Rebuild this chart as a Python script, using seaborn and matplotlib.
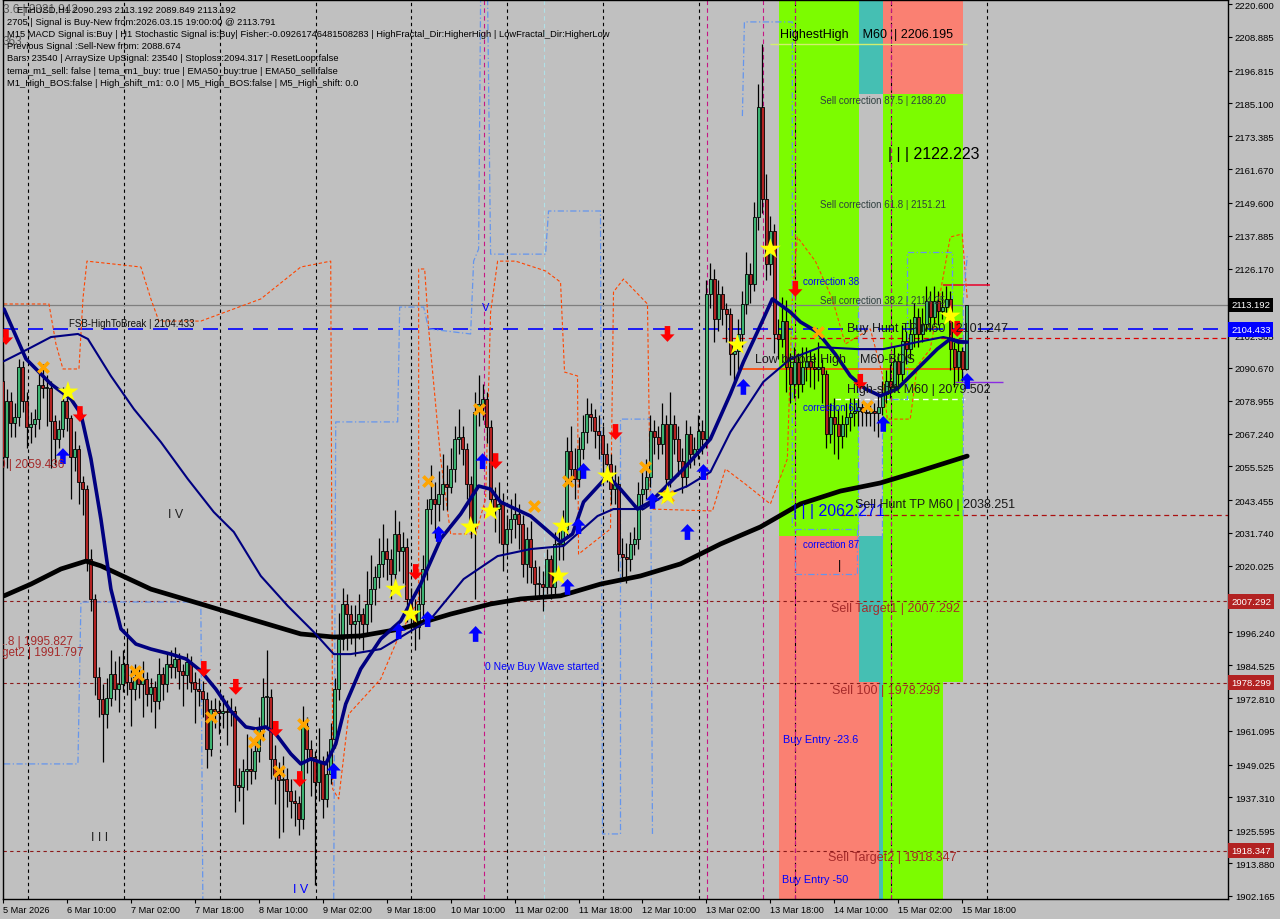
import numpy as np
import matplotlib
matplotlib.use("Agg")
import matplotlib.pyplot as plt
import seaborn as sns

# ETHUSD H1 candles, 5 Mar 18:00 -> 15 Mar 19:00 (open = previous close)
first_open = 2086.0
close = [
    2058.9, 2078.9, 2071.0, 2073.1, 2091.1, 2078.9, 2069.6, 2070.7, 2072.4, 2084.6,
    2083.5, 2083.5, 2071.7, 2065.3, 2068.9, 2078.9, 2072.8, 2058.9, 2061.7, 2050.1,
    2047.4, 2022.5, 2008.2, 1980.3, 1972.5, 1967.0, 1973.0, 1981.4, 1976.0, 1977.8,
    1984.9, 1978.5, 1976.0, 1980.3, 1977.8, 1979.6, 1974.3, 1976.8, 1971.8, 1981.4,
    1977.8, 1984.9, 1983.9, 1986.8, 1982.5, 1981.0, 1985.7, 1978.5, 1976.0, 1975.3,
    1972.5, 1954.6, 1968.9, 1968.2, 1967.5, 1968.2, 1967.8, 1968.2, 1941.8, 1941.0,
    1946.8, 1947.5, 1946.8, 1954.0, 1961.8, 1973.2, 1973.2, 1951.1, 1945.4, 1943.6,
    1943.9, 1939.6, 1936.1, 1935.3, 1929.6, 1962.8, 1954.6, 1951.8, 1942.8, 1950.4,
    1936.8, 1945.7, 1958.2, 1976.0, 1993.9, 2006.4, 2002.8, 1999.2, 2000.3, 2002.8,
    1999.2, 2006.4, 2011.7, 2016.0, 2020.7, 2025.3, 2022.5, 2017.1, 2031.4, 2025.3,
    2026.8, 2008.2, 2002.8, 1998.2, 2006.4, 2018.9, 2040.3, 2043.9, 2042.1, 2045.6,
    2049.2, 2048.1, 2054.6, 2065.3, 2066.0, 2061.7, 2049.2, 2034.3, 2074.9, 2077.8,
    2079.6, 2069.6, 2043.9, 2040.3, 2042.1, 2027.8, 2033.2, 2036.7, 2038.5, 2035.0,
    2020.7, 2029.6, 2019.6, 2013.5, 2013.5, 2012.5, 2022.5, 2012.5, 2027.8, 2027.8,
    2033.2, 2061.0, 2054.6, 2051.0, 2061.7, 2067.8, 2074.2, 2073.1, 2068.2, 2066.8,
    2060.0, 2056.4, 2047.4, 2049.2, 2024.2, 2023.2, 2022.5, 2027.8, 2029.6, 2045.6,
    2047.4, 2051.7, 2068.2, 2066.0, 2063.5, 2070.7, 2051.0, 2070.7, 2065.3, 2057.5,
    2051.7, 2067.1, 2060.0, 2061.7, 2068.2, 2065.3, 2117.0, 2122.4, 2108.1, 2117.0,
    2111.7, 2109.9, 2095.6, 2096.7, 2102.8, 2113.5, 2124.2, 2120.6, 2144.5, 2183.8,
    2151.0, 2127.8, 2139.6, 2102.8, 2101.0, 2107.4, 2091.0, 2084.9, 2092.8, 2084.9,
    2091.0, 2093.1, 2091.0, 2090.3, 2091.0, 2088.5, 2067.1, 2073.1, 2070.7, 2066.4,
    2070.7, 2073.1, 2074.6, 2075.2, 2076.7, 2074.9, 2074.6, 2075.2, 2074.6, 2076.7,
    2081.4, 2086.0, 2083.9, 2093.1, 2088.5, 2100.3, 2097.4, 2102.8, 2108.8, 2102.8,
    2106.4, 2114.6, 2108.8, 2114.6, 2111.0, 2112.4, 2115.3, 2097.4, 2091.0, 2096.7,
    2090.3, 2113.2,
]
high = [
    2092, 2083, 2082, 2078, 2094, 2093, 2082, 2075, 2076, 2090,
    2092, 2088, 2086, 2074, 2072, 2084, 2082, 2074, 2068, 2063,
    2052, 2049, 2026, 2010, 1984, 1978, 1980, 1990, 1986, 1988,
    1990, 1998, 1983, 1985, 1984, 1986, 1982, 1980, 1979, 1987,
    1984, 1989, 1990, 1991, 1989, 1985, 1989, 1988, 1982, 1980,
    1979, 1975, 1972, 1973, 1972, 1974, 1972, 1973, 1970, 1948,
    1951, 1960, 1955, 1958, 1966, 1980, 1990, 1976, 1956, 1950,
    1952, 1948, 1944, 1940, 1938, 1970, 1966, 1958, 1954, 1962,
    1952, 1954, 1964, 1980, 2003, 2012, 2010, 2006, 2006, 2010,
    2005, 2018, 2024, 2020, 2030, 2035, 2030, 2026, 2040, 2036,
    2032, 2030, 2012, 2008, 2012, 2024, 2044, 2056, 2050, 2054,
    2060, 2056, 2062, 2070, 2076, 2070, 2064, 2052, 2082, 2088,
    2085, 2082, 2072, 2048, 2050, 2046, 2038, 2044, 2046, 2042,
    2038, 2034, 2036, 2022, 2020, 2018, 2026, 2024, 2032, 2034,
    2040, 2066, 2070, 2062, 2066, 2074, 2080, 2078, 2076, 2074,
    2070, 2064, 2060, 2056, 2052, 2030, 2028, 2032, 2034, 2050,
    2054, 2058, 2074, 2072, 2070, 2078, 2074, 2082, 2074, 2070,
    2062, 2072, 2070, 2066, 2074, 2072, 2122, 2128, 2126, 2122,
    2120, 2114, 2112, 2100, 2108, 2118, 2132, 2128, 2150, 2192,
    2206.2, 2160, 2145, 2142, 2108, 2116, 2115, 2096, 2098, 2096,
    2098, 2098, 2097, 2096, 2100, 2094, 2090, 2078, 2080, 2076,
    2074, 2078, 2080, 2080, 2080, 2078, 2078, 2079, 2078, 2082,
    2086, 2090, 2092, 2098, 2096, 2106, 2104, 2108, 2114, 2112,
    2112, 2120, 2118, 2120, 2118, 2118, 2120, 2118, 2100, 2100,
    2098, 2113.2,
]
low = [
    2055, 2055, 2066, 2066, 2070, 2075, 2062, 2064, 2066, 2069,
    2080, 2070, 2055, 2056, 2062, 2066, 2068, 2044, 2054, 2042,
    2038, 2018, 2004, 1974, 1966, 1950, 1962, 1970, 1972, 1968,
    1975, 1974, 1963, 1972, 1973, 1966, 1970, 1968, 1962, 1969,
    1972, 1975, 1980, 1980, 1976, 1970, 1976, 1975, 1964, 1970,
    1966, 1948, 1952, 1962, 1960, 1962, 1956, 1963, 1932, 1936,
    1928, 1940, 1942, 1944, 1950, 1958, 1962, 1944, 1935, 1923,
    1925, 1934, 1930, 1927, 1924, 1926, 1946, 1938, 1906, 1936,
    1930, 1934, 1942, 1955, 1972, 1990, 1990, 1992, 1988, 1994,
    1990, 1995, 2000, 2006, 2012, 2016, 2015, 2008, 2012, 2018,
    2014, 2000, 1996, 1990, 1994, 2000, 2015, 2035, 2030, 2036,
    2040, 2040, 2046, 2050, 2060, 2056, 2044, 2030, 2008, 2070,
    2072, 2064, 2040, 2032, 2028, 2018, 2024, 2028, 2030, 2026,
    2016, 2014, 2014, 2008, 2008, 2004, 2010, 2008, 2010, 2022,
    2022, 2030, 2050, 2044, 2048, 2058, 2064, 2068, 2062, 2058,
    2052, 2050, 2042, 2042, 2018, 2016, 2014, 2018, 2024, 2026,
    2040, 2044, 2048, 2060, 2058, 2060, 2046, 2048, 2060, 2052,
    2046, 2048, 2055, 2056, 2058, 2060, 2062, 2112, 2100, 2104,
    2106, 2100, 2088, 2086, 2090, 2098, 2110, 2114, 2118, 2140,
    2146, 2122, 2124, 2096, 2094, 2098, 2082, 2078, 2080, 2080,
    2082, 2086, 2084, 2083, 2086, 2078, 2062, 2064, 2060, 2058,
    2062, 2066, 2068, 2070, 2070, 2070, 2070, 2070, 2068, 2066,
    2074, 2078, 2080, 2082, 2084, 2086, 2092, 2094, 2098, 2098,
    2100, 2104, 2104, 2106, 2106, 2108, 2108, 2090, 2084, 2086,
    2086, 2089.8,
]

# moving averages (candle index, price)
fast_x = [0.25, 5.75, 12, 17, 19.5, 22, 24.5, 27, 29.5, 33.25, 37, 42, 45.75, 49.5, 53.25, 57,
          60.75, 63.25, 65.75, 68.25, 72, 74.5, 77, 80.75, 83.25, 85.75, 89.5, 94.5, 99.5, 104.5,
          109.5, 114.5, 119, 122, 124.5, 132, 135.75, 139.5, 142.5, 145.25, 151.25, 154.5, 158.75,
          162, 165.25, 170.25, 177, 182, 185.25, 188.75, 192.5, 197, 199.5, 203.75, 208.25, 212,
          215.75, 219.5, 223.75, 228.75, 233.75, 237, 239, 241.25]
fast_y = [2111.7, 2093.9, 2084.9, 2079.6, 2074.2, 2058.2, 2036.7, 2011.7, 1997.5, 1992.1, 1990.3,
          1988.5, 1986.8, 1982.5, 1976.0, 1968.2, 1962.5, 1961.8, 1962.5, 1960.0, 1952.9, 1949.3,
          1951.1, 1949.3, 1956.4, 1970.7, 1983.2, 1993.9, 2000.3, 2013.5, 2029.6, 2038.5, 2048.5,
          2047.4, 2042.8, 2037.8, 2033.2, 2028.5, 2031.4, 2042.8, 2052.1, 2047.4, 2040.3, 2042.8,
          2047.4, 2054.6, 2065.3, 2081.4, 2092.8, 2103.5, 2115.3, 2110.6, 2107.1, 2103.5, 2095.6,
          2087.8, 2083.2, 2080.7, 2083.2, 2090.3, 2097.4, 2101.0, 2099.9, 2099.9]
mid_x = [0.25, 6.25, 12, 18.75, 21.25, 27, 32.75, 39.5, 46.25, 52.75, 57.75, 64.5, 71.25, 77.75,
         82.75, 87, 94.5, 107, 115.25, 123.75, 132, 140.25, 148.75, 152.75, 160.25, 165.25,
         171.25, 177, 182, 190.25, 197, 204.5, 213.75, 220.25, 228.75, 235.25, 241.25]
mid_y = [2093.1, 2097.4, 2101.7, 2102.8, 2101.0, 2087.8, 2076.0, 2064.2, 2051.0, 2039.2, 2032.1,
         2016.4, 2005.7, 1996.4, 1988.5, 1988.5, 1990.3, 2001.0, 2015.3, 2023.5, 2026.0, 2027.1,
         2037.8, 2040.3, 2040.3, 2045.0, 2048.5, 2053.5, 2067.8, 2085.7, 2093.9, 2098.1, 2097.4,
         2097.4, 2099.9, 2101.7, 2099.9]
slow_x = [0.25, 7, 14.5, 20.75, 24.5, 37, 49.5, 62, 74.5, 82.75, 89.5, 99.5, 112, 122, 129.5,
          139.5, 149.5, 159.5, 169.5, 179.5, 189.5, 199.5, 209.5, 219.5, 229.5, 241.25]
slow_y = [2009.3, 2013.5, 2018.9, 2021.7, 2020.0, 2011.7, 2006.4, 2001.0, 1995.7, 1994.6, 1995.0,
          1997.5, 2002.8, 2006.4, 2008.2, 2009.3, 2013.5, 2016.4, 2020.7, 2027.8, 2033.9, 2042.1,
          2046.7, 2049.6, 2053.9, 2059.2]

# channel lines
orange_x = [0.25, 11.5, 13.25, 15, 19, 20, 21, 34.5, 37, 39, 49.5, 64.5, 74.5, 82, 82.5, 84, 86.5,
            94.5, 98.75, 104, 104, 105.5, 106.5, 109.5, 112, 118.25, 120.75, 122, 123.75, 128.25,
            135.75, 139.5, 140.5, 143.75, 144, 152, 152.75, 155.25, 161.25, 162, 177.5, 180.75,
            185.75, 192, 196.25, 197.5, 198.75, 203.25, 207.5, 210.75, 217, 220, 221.25, 227,
            228.75, 232, 237, 240, 241.25]
orange_y = [2113.5, 2113.5, 2099.2, 2090.3, 2090.3, 2115.3, 2128.8, 2126.7, 2115.3, 2107.4, 2107.4,
            2115.3, 2126.7, 2128.8, 1940.3, 1936.8, 1967.1, 1979.6, 1993.9, 2008.2, 2126.0, 2126.0,
            2104.6, 2058.2, 2031.4, 2031.4, 2043.9, 2110.6, 2128.8, 2128.8, 2125.3, 2121.3, 2089.2,
            2087.8, 2024.2, 2033.2, 2117.8, 2122.4, 2113.5, 2040.3, 2039.6, 2054.6, 2049.2, 2042.1,
            2058.2, 2115.3, 2137.4, 2128.8, 2115.3, 2099.2, 2104.6, 2088.5, 2072.4, 2072.4, 2091.4,
            2097.4, 2137.4, 2138.5, 2115.3]
blue_paths = [
    ([0.25, 18.75, 19.5, 49.5, 50], [1949.3, 1949.3, 2007.1, 2007.1, 1901.1]),
    ([82.75, 83.25, 98.75, 99.25, 105.25, 106.5, 117, 117.75, 119, 119.5],
     [1901.1, 2071.4, 2071.4, 2112.4, 2112.4, 2104.6, 2102.8, 2128.8, 2133.1, 2222.4]),
    ([121.25, 122, 135.75, 136.5, 149.5, 150, 154.5, 154.5, 162, 162.5],
     [2222.4, 2131.3, 2131.3, 2146.7, 2146.7, 1924.3, 1924.3, 2072.4, 2072.4, 1924.3]),
    ([185, 185.5, 197.5, 197.5], [2180.6, 2214.2, 2214.2, 2033.2]),
    ([198.25, 213.75, 213.75, 198.25, 198.25], [2033.2, 2033.2, 2017.1, 2017.1, 2033.2]),
    ([214, 214], [2115.3, 2029.6]),
    ([220, 220, 226.25, 226.25, 237.5, 237.5], [2029.6, 2079.6, 2079.6, 2132.1, 2132.1, 2115.3]),
    ([240.25, 240.25, 241.25], [2037.8, 2115.3, 2130.6]),
]

# signal markers
star_x = [16.25, 98.25, 102, 117, 122, 139, 140, 151.25, 166.25, 183.75, 192, 237]
star_y = [2082.1, 2011.7, 2002.8, 2033.9, 2039.6, 2016.4, 2034.2, 2052.1, 2045.0, 2098.9, 2133.1, 2109.2]
cross_x = [10, 33, 33.75, 52, 62.75, 64, 69, 75, 106.25, 119, 132.75, 141.25, 160.75, 166.5, 204, 216.25]
cross_y = [2091.0, 1982.5, 1981.0, 1966.0, 1957.2, 1959.6, 1946.8, 1963.5, 2050.3, 2076.0, 2041.4,
           2050.3, 2055.3, 2045.0, 2103.5, 2077.0]
buy_x = [15, 82.75, 99, 106.25, 109, 118.25, 120, 141.25, 144, 145.25, 162.5, 171.25, 175.25,
         185.25, 220.25, 241.25]
buy_y = [2059.2, 1946.8, 1996.7, 2001.0, 2031.4, 1995.7, 2057.4, 2012.5, 2034.2, 2053.9, 2043.2,
         2032.1, 2053.5, 2083.9, 2070.7, 2086.0]
sell_x = [0.75, 19.25, 50.25, 58.25, 68.25, 74.25, 103.25, 123.25, 153.25, 166.25, 198.25, 214.5, 238.75]
sell_y = [2101.7, 2074.2, 1983.2, 1976.8, 1961.8, 1943.9, 2017.8, 2057.4, 2067.8, 2102.8, 2118.9,
          2085.7, 2104.6]

# zones: (x0, x1, price_lo, price_hi, colour)
zones = [
    (194.25, 214.25, 2030.7, 2222.4, "#7CFC00"),
    (194.25, 214.25, 1901.1, 2030.7, "#FA8072"),
    (214.25, 220.25, 2188.5, 2222.4, "#45BFB3"),
    (220.25, 240.25, 2188.5, 2222.4, "#FA8072"),
    (220.25, 240.25, 1978.5, 2188.5, "#7CFC00"),
    (220.25, 235.25, 1901.1, 1978.5, "#7CFC00"),
    (214.25, 220.25, 1978.5, 2030.7, "#45BFB3"),
    (214.25, 219.25, 1901.1, 1978.5, "#FA8072"),
    (219.25, 220.25, 1901.1, 1978.5, "#45BFB3"),
]

day_lines = [6.2, 30.2, 54.2, 78.2, 102.2, 126.2, 150.2, 174.2, 198.2, 222.2, 246.2]
magenta_lines = [120.25, 176.25, 190.25, 198.25, 222.25]
cyan_lines = [135.25]

bid = 2113.192
fsb = 2104.433
target_levels = [2007.292, 1978.299, 1918.347]

y_ticks = [2220.600, 2208.885, 2196.815, 2185.100, 2173.385, 2161.670, 2149.600, 2137.885,
           2126.170, 2114.455, 2102.385, 2090.670, 2078.955, 2067.240, 2055.525, 2043.455,
           2031.740, 2020.025, 2008.310, 1996.240, 1984.525, 1972.810, 1961.095, 1949.025,
           1937.310, 1925.595, 1913.880, 1902.165]
hidden_ticks = [2114.455, 2008.310]  # covered by the price boxes
x_ticks = [0, 16, 32, 48, 64, 80, 96, 112, 128, 144, 160, 176, 192, 208, 224, 240]
x_labels = ["5 Mar 2026", "6 Mar 10:00", "7 Mar 02:00", "7 Mar 18:00", "8 Mar 10:00", "9 Mar 02:00",
            "9 Mar 18:00", "10 Mar 10:00", "11 Mar 02:00", "11 Mar 18:00", "12 Mar 10:00",
            "13 Mar 02:00", "13 Mar 18:00", "14 Mar 10:00", "15 Mar 02:00", "15 Mar 18:00"]

info_lines = [
    "ETHUSD,H1 2090.293 2113.192 2089.849 2113.192",
    "2705 | Signal is Buy-New from:2026.03.15 19:00:00 @ 2113.791",
    "M15 MACD Signal is:Buy | H1 Stochastic Signal is:Buy| Fisher:-0.09261746481508283 | "
    "HighFractal_Dir:HigherHigh | LowFractal_Dir:HigherLow",
    "Previous Signal :Sell-New from: 2088.674",
    "Bars: 23540 | ArraySize UpSignal: 23540 | Stoploss:2094.317 | ResetLoop:false",
    "tema_m1_sell: false | tema_m1_buy: true | EMA50_buy:true | EMA50_sell:false",
    "M1_High_BOS:false | High_shift_m1: 0.0 | M5_High_BOS:false | M5_High_shift: 0.0",
]

sns.set_theme(style="white")
plt.rcParams["font.family"] = ["Liberation Sans", "DejaVu Sans"]
BG = "#C0C0C0"

fig = plt.figure(figsize=(12.8, 9.2), dpi=100, facecolor=BG)
ax = fig.add_axes([3 / 1280, 20 / 920, 1225 / 1280, 899 / 920])
ax.set_facecolor(BG)
ax.set_xlim(0.25, 306.5)
ax.set_ylim(1901.07, 2222.03)

for x0, x1, lo, hi, col in zones:
    ax.fill_between([x0, x1], [lo, lo], [hi, hi], color=col, lw=0, zorder=0.5)

for v in day_lines:
    ax.axvline(v, color="black", lw=0.8, dashes=(3, 3), zorder=1)
for v in magenta_lines:
    ax.axvline(v, color="#C71585", lw=0.8, dashes=(4, 3), zorder=1.1)
for v in cyan_lines:
    ax.axvline(v, color="#B0E0E6", lw=0.8, dashes=(4, 3), zorder=1.1)

# horizontal levels
ax.axhline(bid, color="#7F7F7F", lw=0.9, zorder=1.2)
ax.axhline(fsb, color="#0000FF", lw=1.2, dashes=(9, 6), zorder=1.2)
for lv in target_levels:
    ax.axhline(lv, color="#8B1A1A", lw=0.8, dashes=(3, 3), zorder=1.2)
ax.hlines(2101.4, 180, 306.5, color="#DD0000", lw=0.9, linestyles=(0, (4, 3)), zorder=1.2)
ax.hlines(2038.251, 209.5, 306.5, color="#AA1111", lw=0.9, linestyles=(0, (4, 3)), zorder=1.2)
ax.hlines(2079.502, 208.25, 240.75, color="white", lw=1.0, linestyles=(0, (4, 3)), zorder=1.3)
ax.hlines(2090.3, 184.5, 241.5, color="#FF4500", lw=1.2, zorder=1.3)
ax.hlines(2120.3, 235.25, 247.0, color="#E8002A", lw=1.1, zorder=1.3)
ax.hlines(2085.7, 238.25, 250.25, color="#8A2BE2", lw=1.0, zorder=1.3)
ax.hlines(2206.3, 192.0, 241.25, color="#D2EE70", lw=1.0, zorder=1.3)

# channel lines
ax.plot(orange_x, orange_y, color="#FF4500", lw=0.8, dashes=(3, 2), zorder=2)
for bx, by in blue_paths:
    ax.plot(bx, by, color="#6495ED", lw=0.9, dashes=(5, 2, 1, 2), zorder=2)

# candles
c = np.array(close)
o = np.r_[first_open, c[:-1]]
h = np.maximum(np.array(high, float), np.maximum(o, c))
l = np.minimum(np.array(low, float), np.minimum(o, c))
idx = np.arange(len(c))
bull = c >= o
ax.vlines(idx, l, h, color="black", lw=0.9, zorder=3)
body = np.maximum(np.abs(c - o), 0.4)
ax.bar(idx, body, bottom=np.minimum(o, c), width=0.75,
       color=np.where(bull, "#3CB371", "#B22222"), edgecolor="black", linewidth=0.6, zorder=4)

# moving averages
sns.lineplot(x=slow_x, y=slow_y, ax=ax, color="black", lw=3.4, sort=False, estimator=None, zorder=5)
sns.lineplot(x=mid_x, y=mid_y, ax=ax, color="#000080", lw=1.5, sort=False, estimator=None, zorder=5)
sns.lineplot(x=fast_x, y=fast_y, ax=ax, color="#000080", lw=2.6, sort=False, estimator=None, zorder=5)

# signal markers
up_arrow = [(0, 1), (-0.9, 0.05), (-0.35, 0.05), (-0.35, -1), (0.35, -1), (0.35, 0.05), (0.9, 0.05), (0, 1)]
down_arrow = [(px, -py) for px, py in up_arrow]
ax.scatter(cross_x, cross_y, marker="x", s=55, linewidths=2.6, color="#FFA500", zorder=6)
ax.scatter(star_x, star_y, marker="*", s=250, color="#FFFF00", edgecolors="none", zorder=7)
ax.scatter(buy_x, buy_y, marker=up_arrow, s=130, color="#0000FF", edgecolors="none", zorder=7)
ax.scatter(sell_x, sell_y, marker=down_arrow, s=130, color="#FF0000", edgecolors="none", zorder=7)

# text labels on chart
def label(x, y, s, color="black", size=8.5):
    ax.text(x, y, s, color=color, fontsize=size, ha="left", va="center", zorder=8, clip_on=True)

DK = "#2F3F3F"
RD = "#A52A2A"
BL = "#0000FF"
label(194.5, 2209.9, "HighestHigh    M60  | 2206.195", size=9)
label(204.5, 2186.3, "Sell correction 87.5 | 2188.20", DK, 7)
label(221.5, 2167.4, "| | | 2122.223", size=11.5)
label(204.5, 2149.2, "Sell correction 61.8 | 2151.21", DK, 7)
label(200.25, 2121.7, "correction 38", BL, 7)
label(204.5, 2114.9, "Sell correction 38.2 | 2114.25", DK, 7)
label(211.25, 2104.9, "Buy Hunt TP M60 | 2101.247", "#1A1A1A", 9)
label(188.25, 2093.9, "Low before High    M60-BOS", "#1A1A1A", 9)
label(211.25, 2083.2, "High-shift M60 | 2079.502", "#1A1A1A", 9)
label(200.25, 2076.7, "correction 61", BL, 7)
label(197.75, 2039.6, "| | | 2062.271", BL, 11.5)
label(213.25, 2042.1, "Sell Hunt TP M60 | 2038.251", "#1A1A1A", 9)
label(200.25, 2027.8, "correction 87", BL, 7)
label(209, 2020.3, "|", size=9)
label(207.25, 2005.0, "Sell Target1 | 2007.292", RD, 9)
label(207.5, 1975.7, "Sell 100 | 1978.299", RD, 9)
label(195.25, 1958.2, "Buy Entry -23.6", BL, 7.8)
label(206.5, 1916.1, "Sell Target2 | 1918.347", RD, 9)
label(195, 1908.2, "Buy Entry -50", BL, 7.8)
label(-0.9, 2056.4, "0 | 2059.436", RD, 8.5)
label(-1.2, 1993.2, "1.8 | 1995.827", RD, 8.5)
label(-0.2, 1989.3, "get2 | 1991.797", RD, 8.5)
label(41.25, 2038.5, "I V", "#222222", 9)
label(22, 1923.2, "I I I", "#222222", 9)
label(72.5, 1904.6, "I V", BL, 9)
label(119.8, 2112.6, "V", BL, 8)
label(120.5, 1984.3, "0 New Buy Wave started", BL, 7.5)
label(16.5, 2106.7, "FSB-HighToBreak | 2104.433", "#111111", 7)

# info block top-left
fig.text(3 / 1280, 1 - 10 / 920, "3.6 | 2321.942", color="#555555", fontsize=8.5, va="center")
fig.text(3 / 1280, 1 - 42 / 920, "363", color="#555555", fontsize=8.5, va="center")
for k, line in enumerate(info_lines):
    xs = 17 if k == 0 else 7
    fig.text(xs / 1280, 1 - (10 + 12.2 * k) / 920, line, color="black", fontsize=6.75, va="center")

# axes styling
ax.yaxis.tick_right()
ax.set_yticks(y_ticks)
ax.set_yticklabels(["" if v in hidden_ticks else f"{v:.3f}" for v in y_ticks])
ax.set_xticks(x_ticks)
ax.set_xticklabels(x_labels, ha="left")
ax.tick_params(axis="y", direction="out", length=3, width=0.8, pad=2, labelsize=6.8,
               colors="black", right=True, left=False)
ax.tick_params(axis="x", direction="out", length=3, width=0.8, pad=1.5, labelsize=6.6,
               colors="black", bottom=True)
for sp in ax.spines.values():
    sp.set_color("black")
    sp.set_linewidth(1.0)
ax.set_xlabel("")
ax.set_ylabel("")
ax.grid(False)

# price boxes on the right scale
ytrans = ax.get_yaxis_transform()
boxes = [(bid, "#000000"), (fsb, "#0000FF")] + [(lv, "#B22222") for lv in target_levels]
for val, col in boxes:
    ax.text(1.0025, val, f"{val:.3f}", transform=ytrans, ha="left", va="center", fontsize=6.8,
            color="white", zorder=20, clip_on=False,
            bbox=dict(boxstyle="square,pad=0.3", fc=col, ec="none"))

fig.savefig("out.png", dpi=100, facecolor=BG)
